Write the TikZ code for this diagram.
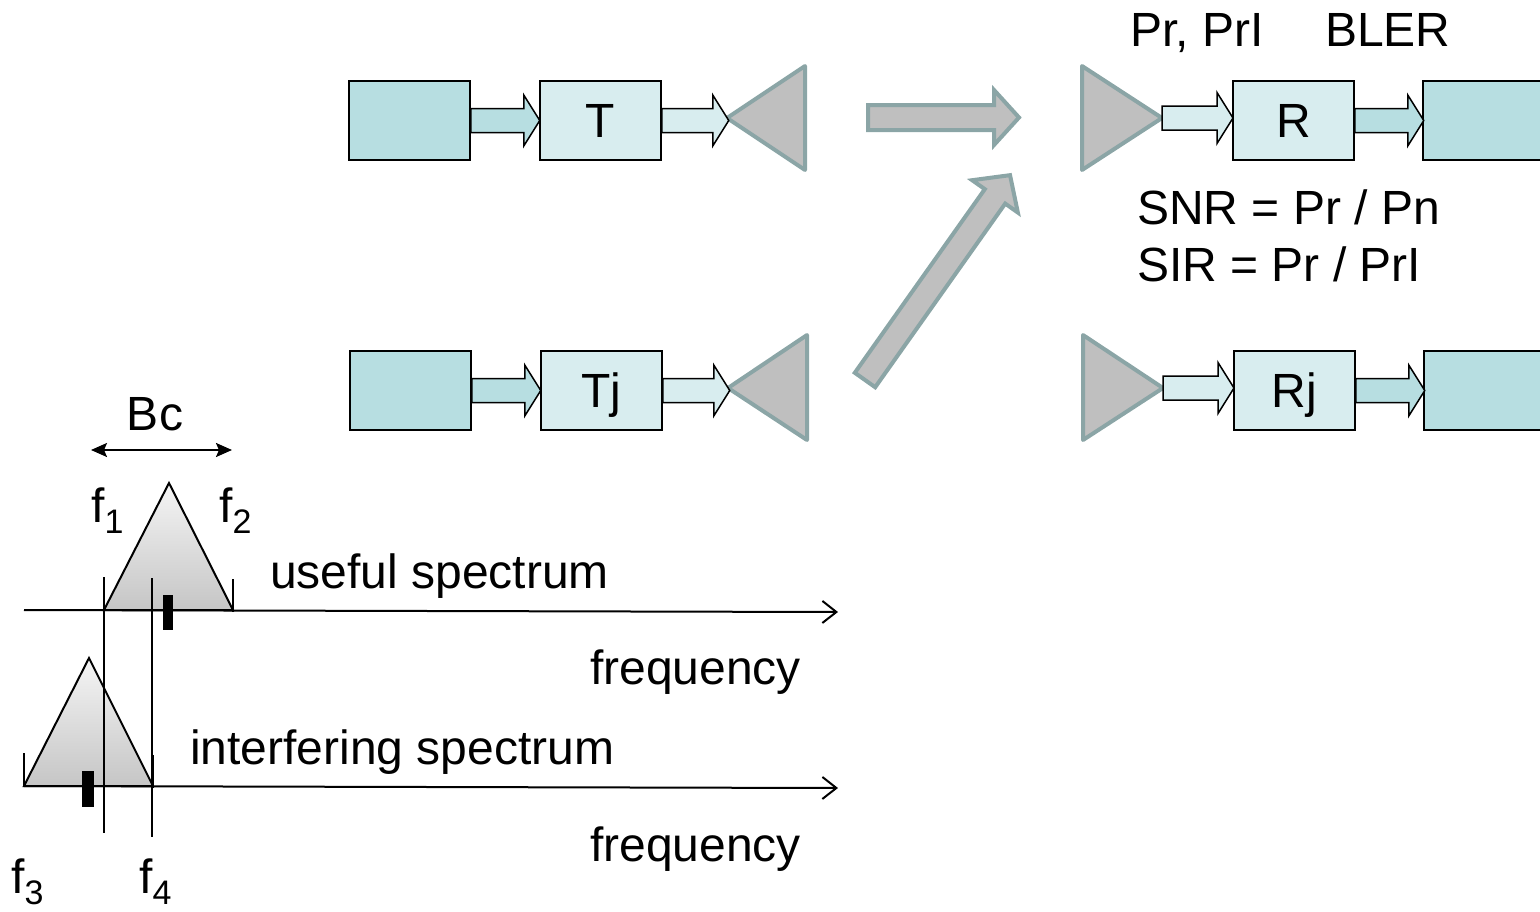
\documentclass[tikz,border=0pt]{standalone}
\usepackage{fontspec}
\setmainfont{Liberation Sans}
\usetikzlibrary{arrows.meta}
\definecolor{tealD}{RGB}{183,222,225}
\definecolor{tealL}{RGB}{216,237,239}
\definecolor{antfill}{RGB}{191,191,191}
\definecolor{antline}{RGB}{139,165,166}
\newcommand{\blkarrow}[7]{%
  \begin{scope}[shift={#2},rotate=#3]
    \draw[#1] (0,#6) -- ({#4-#5},#6) -- ({#4-#5},#7) -- (#4,0) -- ({#4-#5},-#7) -- ({#4-#5},-#6) -- (0,-#6) -- cycle;
  \end{scope}}
\begin{document}
\begin{tikzpicture}[x=1pt,y=-1pt,
  every node/.style={font=\fontsize{48}{58}\selectfont},
  box/.style={draw=black,line width=1.5pt,minimum height=79pt,inner sep=0pt,text height=34pt,text depth=0pt},
  boxw/.style={box,minimum width=121pt},
  ant/.style={draw=antline,fill=antfill,line width=4pt,line join=round},
  smallD/.style={draw=black,fill=tealD,line width=1.5pt},
  smallL/.style={draw=black,fill=tealL,line width=1.5pt},
  big/.style={draw=antline,fill=antfill,line width=4pt,line join=miter},
  spec/.style={draw=black,line width=2pt,top color=gray!8,bottom color=gray!45},
  axis/.style={line width=2pt,-{Straight Barb[length=14pt,width=22pt,line width=2pt]}},
  thin/.style={line width=1.5pt},
  lbl/.style={anchor=base west,inner sep=0pt}
]
\useasboundingbox (0,0) rectangle (1540,911);
\clip (0,0) rectangle (1540,911);

% ---- transmitter T
\node[boxw,fill=tealD] (src1) at (409.5,120.5) {};
\node[boxw,fill=tealL] (T) at (600.5,120.5) {T};
\coordinate (a1) at (727,118);
\draw[ant] (a1) -- (805,66) -- (805,170) -- cycle;
\blkarrow{smallD}{(src1.east)}{0}{69}{16}{12}{25.5}
\blkarrow{smallL}{(T.east)}{0}{67}{16}{12}{25.5}

% ---- interferer Tj
\node[boxw,fill=tealD] (src2) at (410.5,390.5) {};
\node[boxw,fill=tealL] (Tj) at (601.5,390.5) {Tj};
\coordinate (a2) at (728,388);
\draw[ant] (a2) -- (807,335) -- (807,440) -- cycle;
\blkarrow{smallD}{(src2.east)}{0}{69}{16}{12}{25.5}
\blkarrow{smallL}{(Tj.east)}{0}{67}{16}{12}{25.5}

% ---- receiver R
\coordinate (a3) at (1162,118);
\draw[ant] (1082,66) -- (1082,170) -- (a3) -- cycle;
\node[boxw,fill=tealL] (R) at (1293.5,120.5) {R};
\node[box,minimum width=137pt,fill=tealD] (snk1) at (1491.5,120.5) {};
\blkarrow{smallL}{(a3)}{0}{71}{16}{12}{25.5}
\blkarrow{smallD}{(R.east)}{0}{69}{16}{12}{25.5}

% ---- receiver Rj
\coordinate (a4) at (1163,388);
\draw[ant] (1083,335) -- (1083,440) -- (a4) -- cycle;
\node[boxw,fill=tealL] (Rj) at (1294.5,390.5) {Rj};
\node[box,minimum width=137pt,fill=tealD] (snk2) at (1492.5,390.5) {};
\blkarrow{smallL}{(a4)}{0}{71}{16}{12}{25.5}
\blkarrow{smallD}{(Rj.east)}{0}{69}{16}{12}{25.5}

% ---- big propagation arrows
\coordinate (p1) at (868,117.5);
\coordinate (p2) at (865,380);
\blkarrow{big}{(p1)}{0}{151}{25}{12.5}{27.5}
\blkarrow{big}{(p2)}{54.7}{251}{26}{12.5}{28}

% ---- labels right
\node[lbl] (lpr) at (1130,46) {Pr, PrI};
\node[lbl] (lbler) at (1325,46) {BLER};
\node[lbl] (lsnr) at (1137,224) {SNR = Pr / Pn};
\node[lbl] (lsir) at (1137,281) {SIR = Pr / PrI};

% ---- spectra
\draw[spec] (104,610) -- (169,483) -- (233,610) -- cycle;
\draw[spec] (24,786) -- (89,658) -- (153,786) -- cycle;
\draw[thin] (104,577) -- (104,833);
\draw[thin] (152,578) -- (152,837);
\draw[thin] (233,579) -- (233,612);
\draw[thin] (24,753) -- (24,787);
\draw[thin] (153,755) -- (153,788);
\coordinate (ax1s) at (24,610);
\coordinate (ax1e) at (838,612);
\coordinate (ax2s) at (24,786);
\coordinate (ax2e) at (838,788);
\draw[axis] (ax1s) -- (ax1e);
\draw[axis] (ax2s) -- (ax2e);
\fill[black] (163,595) rectangle (173,630);
\fill[black] (82,771) rectangle (94,807);

% Bc
\coordinate (bcl) at (91,450);
\coordinate (bcr) at (232,450);
\draw[line width=2pt,{Stealth[length=16pt,width=14pt,inset=3pt]}-{Stealth[length=16pt,width=14pt,inset=3pt]}] (bcl) -- (bcr);
\node[anchor=base,inner sep=0pt] (lbc) at (155,430) {Bc};

\node[lbl] (f1) at (91,522) {f\raisebox{-11pt}{\fontsize{34}{40}\selectfont 1}};
\node[lbl] (f2) at (219,522) {f\raisebox{-11pt}{\fontsize{34}{40}\selectfont 2}};
\node[lbl] (f3) at (11,893) {f\raisebox{-11pt}{\fontsize{34}{40}\selectfont 3}};
\node[lbl] (f4) at (139,893) {f\raisebox{-11pt}{\fontsize{34}{40}\selectfont 4}};

\node[lbl] (us) at (270,588) {useful spectrum};
\node[lbl] (fr1) at (590,684) {frequency};
\node[lbl] (is) at (190,764) {interfering spectrum};
\node[lbl] (fr2) at (590,861) {frequency};
\end{tikzpicture}
\end{document}
